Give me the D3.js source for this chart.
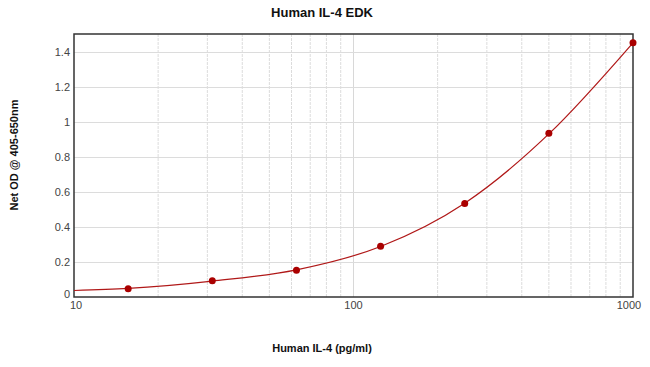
<!DOCTYPE html>
<html><head><meta charset="utf-8">
<script src="https://cdn.jsdelivr.net/npm/d3@7"></script>
<style>body{margin:0;background:#fff}svg{display:block}</style>
</head><body>
<script>
const concentrations = [15.625, 31.25, 62.5, 125, 250, 500, 1000];
const odValues = [0.047, 0.093, 0.153, 0.29, 0.533, 0.934, 1.45];
const fitX = [10, 15.625, 31.25, 62.5, 125, 250, 500, 1000];
const fitY = [0.037, 0.049, 0.091, 0.155, 0.288, 0.535, 0.93, 1.45];
const yTicks = [0, 0.2, 0.4, 0.6, 0.8, 1, 1.2, 1.4];
const xTicks = [10, 100, 1000];

const W = 650, H = 367;
const m = {l:74, r:17, t:34, b:70};
const svg = d3.select("body").append("svg").attr("width", W).attr("height", H);
const x = d3.scaleLog().domain([10, 1000]).range([m.l, W - m.r]);
const y = d3.scaleLinear().domain([0, 1.5]).range([H - m.b + 0, m.t]);

const font = "Arial, 'Liberation Sans', sans-serif";

// minor vertical grid
const minor = [];
for (let d = 10; d < 1000; d *= 10) for (let k = 2; k <= 9; k++) minor.push(d * k);
svg.append("g").selectAll("line").data(minor).join("line")
  .attr("x1", d => x(d)).attr("x2", d => x(d))
  .attr("y1", y(1.5)).attr("y2", y(0))
  .attr("stroke", "#dcdcdc").attr("stroke-width", 1).attr("stroke-dasharray", "3,1");
svg.append("g").selectAll("line").data([100]).join("line")
  .attr("x1", d => x(d)).attr("x2", d => x(d))
  .attr("y1", y(1.5)).attr("y2", y(0))
  .attr("stroke", "#d8d8d8").attr("stroke-width", 1);
// horizontal grid
svg.append("g").selectAll("line").data(yTicks.slice(1)).join("line")
  .attr("x1", m.l).attr("x2", W - m.r)
  .attr("y1", d => Math.round(y(d)) + 0.5).attr("y2", d => Math.round(y(d)) + 0.5)
  .attr("stroke", "#dcdcdc").attr("stroke-width", 1);

// frame
svg.append("rect").attr("x", m.l).attr("y", m.t).attr("width", W - m.r - m.l).attr("height", y(0) - m.t)
  .attr("fill", "none").attr("stroke", "#333").attr("stroke-width", 1.5);

// y axis labels
svg.append("g").selectAll("text").data(yTicks).join("text")
  .attr("x", m.l - 4).attr("y", d => d === 0 ? y(d) + 1 : y(d) + 4)
  .attr("text-anchor", "end").attr("font-family", font).attr("font-size", 11).attr("fill", "#444")
  .text(d => d3.format("~g")(d));
// x axis labels
svg.append("g").selectAll("text").data(xTicks).join("text")
  .attr("x", d => d === 10 ? x(d) + 2 : (d === 1000 ? x(d) - 4 : x(d)))
  .attr("y", y(0) + 12)
  .attr("text-anchor", "middle").attr("font-family", font).attr("font-size", 11).attr("fill", "#444")
  .text(d => d);

// fitted curve
const line = d3.line().x((d, i) => x(fitX[i])).y(d => y(d)).curve(d3.curveMonotoneX);
svg.append("path").attr("d", line(fitY)).attr("fill", "none").attr("stroke", "#b01818").attr("stroke-width", 1.2);

// points
svg.append("g").selectAll("circle").data(odValues).join("circle")
  .attr("cx", (d, i) => x(concentrations[i])).attr("cy", d => y(d)).attr("r", 3.5)
  .attr("fill", "#aa0000");

// titles
svg.append("text").attr("x", 322).attr("y", 17).attr("text-anchor", "middle")
  .attr("font-family", font).attr("font-weight", "bold").attr("font-size", 13).attr("fill", "#111")
  .text("Human IL-4 EDK");
svg.append("text").attr("x", 322).attr("y", 352).attr("text-anchor", "middle")
  .attr("font-family", font).attr("font-weight", "bold").attr("font-size", 11).attr("fill", "#111")
  .text("Human IL-4 (pg/ml)");
svg.append("text").attr("transform", "translate(18,155) rotate(-90)").attr("text-anchor", "middle")
  .attr("font-family", font).attr("font-weight", "bold").attr("font-size", 11).attr("fill", "#111")
  .text("Net OD @ 405-650nm");
</script>
</body></html>
